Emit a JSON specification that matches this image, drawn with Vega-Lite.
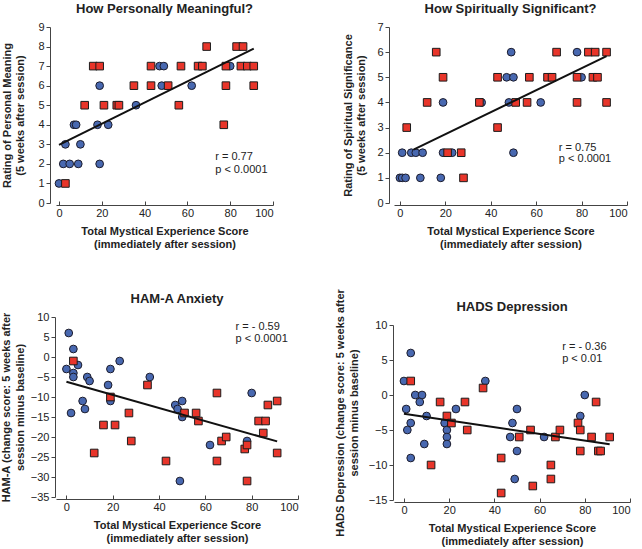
{
  "$schema": "https://vega.github.io/schema/vega-lite/v6.json",
  "padding": {"left": 0, "top": 3, "right": 0, "bottom": 0},
  "config": {
    "font": "Liberation Sans",
    "view": {"stroke": null},
    "title": {"fontSize": 13, "fontWeight": "bold", "color": "#222", "offset": 5, "font": "Liberation Sans"},
    "axis": {
      "grid": false, "domainColor": "#444", "tickColor": "#444", "tickSize": 4,
      "labelFontSize": 11, "labelColor": "#222", "labelFont": "Liberation Sans", "labelOverlap": false,
      "titleFontSize": 11, "titleFontWeight": "bold", "titleColor": "#222", "titleFont": "Liberation Sans",
      "titleLineHeight": 13.5, "format": "d"
    },
    "axisX": {"offset": 2, "titlePadding": 7, "tickSize": -4, "labelPadding": 6, "tickCount": 6},
    "axisY": {"labelPadding": 2}
  },
  "datasets": {
    "meaning": [
      {"g":"b","x":0,"y":1},{"g":"b","x":2,"y":2},{"g":"b","x":5,"y":2},{"g":"b","x":9,"y":2},{"g":"b","x":3,"y":3},{"g":"b","x":10,"y":3},
      {"g":"b","x":7,"y":4},{"g":"b","x":8,"y":4},{"g":"b","x":18,"y":4},{"g":"b","x":23,"y":4},{"g":"b","x":19,"y":6},{"g":"b","x":19,"y":2},
      {"g":"b","x":36,"y":5},{"g":"b","x":47,"y":7},{"g":"b","x":49,"y":7},{"g":"b","x":48,"y":6},{"g":"b","x":62,"y":6},{"g":"b","x":80,"y":7},
      {"g":"r","x":3,"y":1},{"g":"r","x":16,"y":7},{"g":"r","x":19,"y":7},{"g":"r","x":12,"y":5},{"g":"r","x":21,"y":5},{"g":"r","x":27,"y":5},
      {"g":"r","x":28,"y":5},{"g":"r","x":35,"y":6},{"g":"r","x":43,"y":7},{"g":"r","x":43,"y":6},{"g":"r","x":51,"y":6},{"g":"r","x":57,"y":7},
      {"g":"r","x":56,"y":5},{"g":"r","x":65,"y":7},{"g":"r","x":67,"y":7},{"g":"r","x":69,"y":8},{"g":"r","x":77,"y":4},{"g":"r","x":78,"y":6},
      {"g":"r","x":78,"y":7},{"g":"r","x":83,"y":8},{"g":"r","x":86,"y":8},{"g":"r","x":85,"y":7},{"g":"r","x":88,"y":7},{"g":"r","x":91,"y":7},
      {"g":"r","x":91,"y":6}
    ],
    "spiritual": [
      {"g":"b","x":0,"y":1},{"g":"b","x":1,"y":1},{"g":"b","x":2.5,"y":1},{"g":"b","x":9,"y":1},{"g":"b","x":18,"y":1},
      {"g":"b","x":1,"y":2},{"g":"b","x":5,"y":2},{"g":"b","x":7,"y":2},{"g":"b","x":10,"y":2},{"g":"b","x":19,"y":2},{"g":"b","x":23,"y":2},{"g":"b","x":50,"y":2},
      {"g":"b","x":19,"y":4},{"g":"b","x":36,"y":4},{"g":"b","x":48,"y":4},{"g":"b","x":62,"y":4},
      {"g":"b","x":47,"y":5},{"g":"b","x":50,"y":5},{"g":"b","x":80,"y":5},{"g":"b","x":49,"y":6},{"g":"b","x":78,"y":6},
      {"g":"r","x":28,"y":1},{"g":"r","x":21,"y":2},{"g":"r","x":27,"y":2},{"g":"r","x":3,"y":3},{"g":"r","x":43,"y":3},
      {"g":"r","x":12,"y":4},{"g":"r","x":35,"y":4},{"g":"r","x":51,"y":4},{"g":"r","x":56,"y":4},{"g":"r","x":78,"y":4},{"g":"r","x":91,"y":4},
      {"g":"r","x":19,"y":5},{"g":"r","x":43,"y":5},{"g":"r","x":57,"y":5},{"g":"r","x":65,"y":5},{"g":"r","x":67,"y":5},{"g":"r","x":78,"y":5},
      {"g":"r","x":85,"y":5},{"g":"r","x":87,"y":5},
      {"g":"r","x":16,"y":6},{"g":"r","x":69,"y":6},{"g":"r","x":83,"y":6},{"g":"r","x":86,"y":6},{"g":"r","x":91,"y":6}
    ],
    "hama": [
      {"g":"b","x":0,"y":-3},{"g":"b","x":1,"y":6},{"g":"b","x":3,"y":2},{"g":"b","x":3,"y":-4},{"g":"b","x":3,"y":-5},{"g":"b","x":5,"y":-2},
      {"g":"b","x":9,"y":-5},{"g":"b","x":10,"y":-6},{"g":"b","x":7,"y":-11},{"g":"b","x":8,"y":-13},{"g":"b","x":2,"y":-14},
      {"g":"b","x":19,"y":-3},{"g":"b","x":23,"y":-1},{"g":"b","x":18,"y":-7},{"g":"b","x":19,"y":-11},{"g":"b","x":36,"y":-5},
      {"g":"b","x":47,"y":-12},{"g":"b","x":48,"y":-13},{"g":"b","x":50,"y":-11},{"g":"b","x":50,"y":-15},{"g":"b","x":49,"y":-31},
      {"g":"b","x":62,"y":-22},{"g":"b","x":80,"y":-9},{"g":"b","x":78,"y":-21},
      {"g":"r","x":3,"y":-1},{"g":"r","x":19,"y":-10},{"g":"r","x":12,"y":-24},{"g":"r","x":16,"y":-17},{"g":"r","x":21,"y":-17},
      {"g":"r","x":27,"y":-14},{"g":"r","x":28,"y":-21},{"g":"r","x":35,"y":-7},{"g":"r","x":43,"y":-26},{"g":"r","x":51,"y":-14},
      {"g":"r","x":56,"y":-14},{"g":"r","x":57,"y":-16},{"g":"r","x":65,"y":-9},{"g":"r","x":65,"y":-26},{"g":"r","x":67,"y":-21},
      {"g":"r","x":69,"y":-20},{"g":"r","x":77,"y":-23},{"g":"r","x":78,"y":-22},{"g":"r","x":78,"y":-31},{"g":"r","x":83,"y":-16},
      {"g":"r","x":86,"y":-16},{"g":"r","x":85,"y":-19},{"g":"r","x":87,"y":-12},{"g":"r","x":91,"y":-11},{"g":"r","x":91,"y":-24}
    ],
    "hads": [
      {"g":"b","x":0,"y":2},{"g":"b","x":3,"y":6},{"g":"b","x":1,"y":-2},{"g":"b","x":1.5,"y":-5},{"g":"b","x":3,"y":-4},{"g":"b","x":3,"y":-9},
      {"g":"b","x":5,"y":0},{"g":"b","x":8,"y":0},{"g":"b","x":7,"y":-1},{"g":"b","x":10,"y":-3},{"g":"b","x":9,"y":-7},
      {"g":"b","x":18,"y":-4},{"g":"b","x":19,"y":-5},{"g":"b","x":19,"y":-6},{"g":"b","x":19,"y":-7},{"g":"b","x":23,"y":-2},
      {"g":"b","x":36,"y":2},{"g":"b","x":48,"y":-4},{"g":"b","x":47,"y":-6},{"g":"b","x":50,"y":-2},{"g":"b","x":50,"y":-8},{"g":"b","x":49,"y":-12},
      {"g":"b","x":62,"y":-6},{"g":"b","x":78,"y":-3},{"g":"b","x":80,"y":0},
      {"g":"r","x":3,"y":2},{"g":"r","x":12,"y":-10},{"g":"r","x":16,"y":-1},{"g":"r","x":19,"y":-3},{"g":"r","x":21,"y":-4},
      {"g":"r","x":27,"y":-1},{"g":"r","x":28,"y":-5},{"g":"r","x":35,"y":1},{"g":"r","x":43,"y":-9},{"g":"r","x":43,"y":-14},
      {"g":"r","x":51,"y":-6},{"g":"r","x":56,"y":-5},{"g":"r","x":57,"y":-13},{"g":"r","x":65,"y":-10},{"g":"r","x":65,"y":-12},
      {"g":"r","x":67,"y":-6},{"g":"r","x":69,"y":-5},{"g":"r","x":77,"y":-4},{"g":"r","x":78,"y":-5},{"g":"r","x":78,"y":-8},
      {"g":"r","x":83,"y":-6},{"g":"r","x":85,"y":-1},{"g":"r","x":86,"y":-8},{"g":"r","x":87,"y":-8},{"g":"r","x":91,"y":-6}
    ]
  },
  "hconcat": [
    {
      "concat": [
        {
          "title": "How Personally Meaningful?",
          "width": 217, "height": 176,
          "layer": [
            {
              "data": {"name": "meaning"},
              "transform": [{"filter": "datum.g == 'b'"}],
              "mark": {"type": "point", "shape": "circle", "filled": true, "size": 60, "fill": "#4868b0", "stroke": "#1c1c2c", "strokeWidth": 1, "opacity": 1},
              "encoding": {
                "x": {"field": "x", "type": "quantitative", "scale": {"domain": [-1.4, 100], "nice": false, "zero": false}, "axis": {"values": [0,20,40,60,80,100], "title": ["Total Mystical Experience Score", "(immediately after session)"]}},
                "y": {"field": "y", "type": "quantitative", "scale": {"domain": [0, 9], "nice": false}, "axis": {"values": [0,1,2,3,4,5,6,7,8,9], "tickCount": 10, "offset": 6, "titlePadding": 12, "title": ["Rating of Personal Meaning", "(5 weeks after session)"]}}
              }
            },
            {
              "data": {"name": "meaning"},
              "transform": [{"filter": "datum.g == 'r'"}],
              "mark": {"type": "point", "shape": "square", "filled": true, "size": 58, "fill": "#e8352a", "stroke": "#1c1c1c", "strokeWidth": 1, "opacity": 1},
              "encoding": {"x": {"field": "x", "type": "quantitative"}, "y": {"field": "y", "type": "quantitative"}}
            },
            {
              "data": {"values": [{"x": 0, "y": 2.97}, {"x": 91, "y": 7.89}]},
              "mark": {"type": "line", "color": "#111", "strokeWidth": 2},
              "encoding": {"x": {"field": "x", "type": "quantitative"}, "y": {"field": "y", "type": "quantitative"}}
            },
            {
              "data": {"values": [{"t": "r = 0.77", "x": 73, "y": 2.35}, {"t": "p < 0.0001", "x": 73, "y": 1.7}]},
              "mark": {"type": "text", "align": "left", "baseline": "middle", "fontSize": 11, "color": "#222"},
              "encoding": {"x": {"field": "x", "type": "quantitative"}, "y": {"field": "y", "type": "quantitative"}, "text": {"field": "t"}}
            }
          ]
        },
        {
          "title": "HAM-A Anxiety",
          "width": 242, "height": 180,
          "layer": [
            {
              "data": {"name": "hama"},
              "transform": [{"filter": "datum.g == 'b'"}],
              "mark": {"type": "point", "shape": "circle", "filled": true, "size": 60, "fill": "#4868b0", "stroke": "#1c1c2c", "strokeWidth": 1, "opacity": 1},
              "encoding": {
                "x": {"field": "x", "type": "quantitative", "scale": {"domain": [-4.5, 100], "nice": false, "zero": false}, "axis": {"values": [0,20,40,60,80,100], "title": ["Total Mystical Experience Score", "(immediately after session)"]}},
                "y": {"field": "y", "type": "quantitative", "scale": {"domain": [-35, 10], "nice": false}, "axis": {"values": [-35,-30,-25,-20,-15,-10,-5,0,5,10], "tickCount": 10, "offset": 1, "titlePadding": 5, "title": ["HAM-A (change score: 5 weeks after", "session minus baseline)"]}}
              }
            },
            {
              "data": {"name": "hama"},
              "transform": [{"filter": "datum.g == 'r'"}],
              "mark": {"type": "point", "shape": "square", "filled": true, "size": 58, "fill": "#e8352a", "stroke": "#1c1c1c", "strokeWidth": 1, "opacity": 1},
              "encoding": {"x": {"field": "x", "type": "quantitative"}, "y": {"field": "y", "type": "quantitative"}}
            },
            {
              "data": {"values": [{"x": 0, "y": -6.2}, {"x": 91, "y": -21.1}]},
              "mark": {"type": "line", "color": "#111", "strokeWidth": 2},
              "encoding": {"x": {"field": "x", "type": "quantitative"}, "y": {"field": "y", "type": "quantitative"}}
            },
            {
              "data": {"values": [{"t": "r = - 0.59", "x": 73, "y": 7.5}, {"t": "p < 0.0001", "x": 73, "y": 4.6}]},
              "mark": {"type": "text", "align": "left", "baseline": "middle", "fontSize": 11, "color": "#222"},
              "encoding": {"x": {"field": "x", "type": "quantitative"}, "y": {"field": "y", "type": "quantitative"}, "text": {"field": "t"}}
            }
          ]
        }
      ],
      "columns": 1,
      "align": "none",
      "spacing": 43
    },
    {
      "concat": [
        {
          "title": "How Spiritually Significant?",
          "width": 233, "height": 176,
          "layer": [
            {
              "data": {"name": "spiritual"},
              "transform": [{"filter": "datum.g == 'b'"}],
              "mark": {"type": "point", "shape": "circle", "filled": true, "size": 60, "fill": "#4868b0", "stroke": "#1c1c2c", "strokeWidth": 1, "opacity": 1},
              "encoding": {
                "x": {"field": "x", "type": "quantitative", "scale": {"domain": [-2.6, 100], "nice": false, "zero": false}, "axis": {"values": [0,20,40,60,80,100], "title": ["Total Mystical Experience Score", "(immediately after session)"]}},
                "y": {"field": "y", "type": "quantitative", "scale": {"domain": [0, 7], "nice": false}, "axis": {"values": [0,1,2,3,4,5,6,7], "tickCount": 8, "offset": 5, "titlePadding": 10, "title": ["Rating of Spiritual Significance", "(5 weeks after session)"]}}
              }
            },
            {
              "data": {"name": "spiritual"},
              "transform": [{"filter": "datum.g == 'r'"}],
              "mark": {"type": "point", "shape": "square", "filled": true, "size": 58, "fill": "#e8352a", "stroke": "#1c1c1c", "strokeWidth": 1, "opacity": 1},
              "encoding": {"x": {"field": "x", "type": "quantitative"}, "y": {"field": "y", "type": "quantitative"}}
            },
            {
              "data": {"values": [{"x": 6, "y": 2.12}, {"x": 91, "y": 5.84}]},
              "mark": {"type": "line", "color": "#111", "strokeWidth": 2},
              "encoding": {"x": {"field": "x", "type": "quantitative"}, "y": {"field": "y", "type": "quantitative"}}
            },
            {
              "data": {"values": [{"t": "r = 0.75", "x": 70, "y": 2.2}, {"t": "p < 0.0001", "x": 70, "y": 1.75}]},
              "mark": {"type": "text", "align": "left", "baseline": "middle", "fontSize": 11, "color": "#222"},
              "encoding": {"x": {"field": "x", "type": "quantitative"}, "y": {"field": "y", "type": "quantitative"}, "text": {"field": "t"}}
            }
          ]
        },
        {
          "title": {"text": "HADS Depression", "dy": 30},
          "width": 236, "height": 175,
          "layer": [
            {
              "data": {"name": "hads"},
              "transform": [{"filter": "datum.g == 'b'"}],
              "mark": {"type": "point", "shape": "circle", "filled": true, "size": 60, "fill": "#4868b0", "stroke": "#1c1c2c", "strokeWidth": 1, "opacity": 1},
              "encoding": {
                "x": {"field": "x", "type": "quantitative", "scale": {"domain": [-4.4, 100], "nice": false, "zero": false}, "axis": {"values": [0,20,40,60,80,100], "title": ["Total Mystical Experience Score", "(immediately after session)"]}},
                "y": {"field": "y", "type": "quantitative", "scale": {"domain": [-15, 10], "nice": false}, "axis": {"values": [-15,-10,-5,0,5,10], "tickCount": 6, "offset": 1, "titlePadding": 9, "title": ["HADS Depression (change score: 5 weeks after", "session minus baseline)"]}}
              }
            },
            {
              "data": {"name": "hads"},
              "transform": [{"filter": "datum.g == 'r'"}],
              "mark": {"type": "point", "shape": "square", "filled": true, "size": 58, "fill": "#e8352a", "stroke": "#1c1c1c", "strokeWidth": 1, "opacity": 1},
              "encoding": {"x": {"field": "x", "type": "quantitative"}, "y": {"field": "y", "type": "quantitative"}}
            },
            {
              "data": {"values": [{"x": 0, "y": -2.67}, {"x": 91, "y": -7.05}]},
              "mark": {"type": "line", "color": "#111", "strokeWidth": 2},
              "encoding": {"x": {"field": "x", "type": "quantitative"}, "y": {"field": "y", "type": "quantitative"}}
            },
            {
              "data": {"values": [{"t": "r = - 0.36", "x": 70, "y": 6.9}, {"t": "p < 0.01", "x": 70, "y": 5.1}]},
              "mark": {"type": "text", "align": "left", "baseline": "middle", "fontSize": 11, "color": "#222"},
              "encoding": {"x": {"field": "x", "type": "quantitative"}, "y": {"field": "y", "type": "quantitative"}, "text": {"field": "t"}}
            }
          ]
        }
      ],
      "columns": 1,
      "align": "none",
      "spacing": 38
    }
  ],
  "spacing": 35
}
